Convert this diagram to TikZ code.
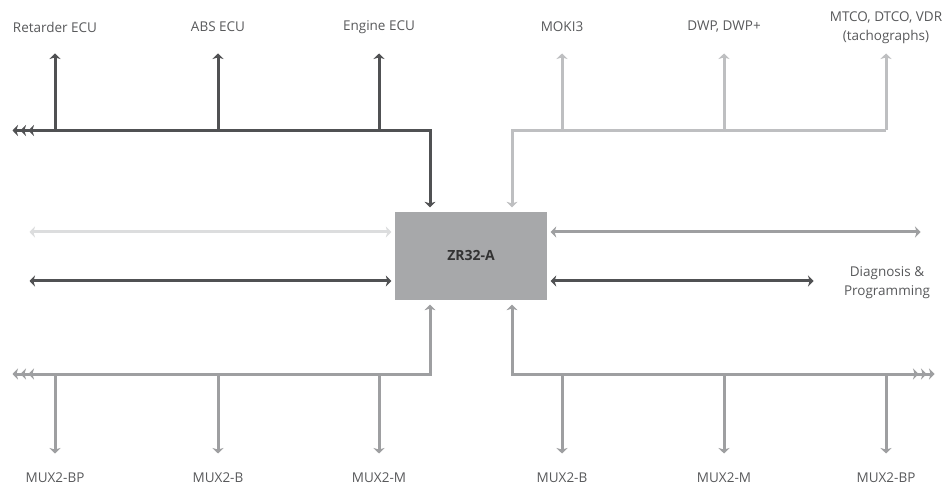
\documentclass[tikz,border=0pt]{standalone}
\usepackage{fontspec}
\setmainfont{Open Sans}
\usetikzlibrary{arrows.meta}
\definecolor{dk}{HTML}{505153}
\definecolor{lt}{HTML}{BEBFC1}
\definecolor{vlt}{HTML}{DCDDDE}
\definecolor{md}{HTML}{9E9FA1}
\definecolor{boxc}{HTML}{A7A8AA}
\definecolor{txt}{HTML}{58595B}
\begin{document}
\begin{tikzpicture}[x=1pt,y=-1pt,
  chev/.tip={Stealth[length=5.5pt,width=11pt,inset=1.6pt,sep=2.5pt]},
  bus/.style={line width=3pt},
  lbl/.style={font=\fontsize{13.5}{19}\selectfont, text=txt, inner sep=0pt, align=center},
  ]
\useasboundingbox (0,0) rectangle (945,486);
\node[fill=boxc, minimum width=152pt, minimum height=88pt, inner sep=0pt,
      font=\bfseries\fontsize{14}{16}\selectfont, text=black!80] (zr) at (471,256) {ZR32-A};

% top labels
\node[lbl] (ret) at (55,27) {Retarder ECU};
\node[lbl] (abs) at (218,27) {ABS ECU};
\node[lbl] (eng) at (379,27) {Engine ECU};
\node[lbl] (moki) at (562,27) {MOKI3};
\node[lbl] (dwp) at (724,27) {DWP, DWP+};
\node[lbl] (tach) at (886,27.5) {MTCO, DTCO, VDR\\(tachographs)};
% bottom labels
\node[lbl] (b1) at (55,478) {MUX2-BP};
\node[lbl] (b2) at (218,478) {MUX2-B};
\node[lbl] (b3) at (379,478) {MUX2-M};
\node[lbl] (b4) at (562,478) {MUX2-B};
\node[lbl] (b5) at (724,478) {MUX2-M};
\node[lbl] (b6) at (886,478) {MUX2-BP};
\node[lbl] (diag) at (887,283) {Diagnosis \&\\Programming};

% tips and junctions
\foreach \n/\x in {ret/55,abs/218,eng/379,moki/562,dwp/724,tach/886}{
  \coordinate (\n t) at (\x,51);
  \coordinate (\n j) at (\x,130.5);
}
\foreach \n/\x in {b1/55,b2/218,b3/379,b4/562,b5/724,b6/886}{
  \coordinate (\n t) at (\x,456);
  \coordinate (\n j) at (\x,374);
}
\coordinate (lend) at (10,130.5);
\coordinate (blend) at (10,374);
\coordinate (brend) at (937,374);
\coordinate (l1) at (27,232);
\coordinate (l2) at (27,281);
\coordinate (r1) at (923,232);
\coordinate (r2) at (816,281);
\coordinate (zw) at ([xshift=-1pt]zr.west);
\coordinate (ze) at ([xshift=1pt]zr.east);
\coordinate (ztl) at ([xshift=-41pt,yshift=2pt]zr.north);
\coordinate (ztr) at ([xshift=41pt,yshift=2pt]zr.north);
\coordinate (zbl) at ([xshift=-41pt,yshift=-2pt]zr.south);
\coordinate (zbr) at ([xshift=41pt,yshift=-2pt]zr.south);

% top-left bus (dark)
\draw[bus,dk,{chev[]chev[]chev[]}-{chev[]}] (lend) -| (ztl);
\foreach \n in {ret,abs,eng} \draw[bus,dk,-{chev[]}] (\n j) -- (\n t);

% top-right bus (light)
\draw[bus,lt,-{chev[]}] (tachj) -| (ztr);
\foreach \n in {moki,dwp,tach} \draw[bus,lt,-{chev[]}] (\n j) -- (\n t);

% side arrows
\draw[bus,vlt,{chev[]}-{chev[]}] (l1) -- (l1 -| zw);
\draw[bus,dk,{chev[]}-{chev[]}] (l2) -- (l2 -| zw);
\draw[bus,md,{chev[]}-{chev[]}] (r1) -- (r1 -| ze);
\draw[bus,dk,{chev[]}-{chev[]}] (r2) -- (r2 -| ze);

% bottom-left bus
\draw[bus,md,{chev[]chev[]chev[]}-{chev[]}] (blend) -| (zbl);
\foreach \n in {b1,b2,b3} \draw[bus,md,-{chev[]}] (\n j) -- (\n t);

% bottom-right bus
\draw[bus,md,{chev[]}-{chev[]chev[]chev[]}] (zbr) |- (brend);
\foreach \n in {b4,b5,b6} \draw[bus,md,-{chev[]}] (\n j) -- (\n t);
\end{tikzpicture}
\end{document}
